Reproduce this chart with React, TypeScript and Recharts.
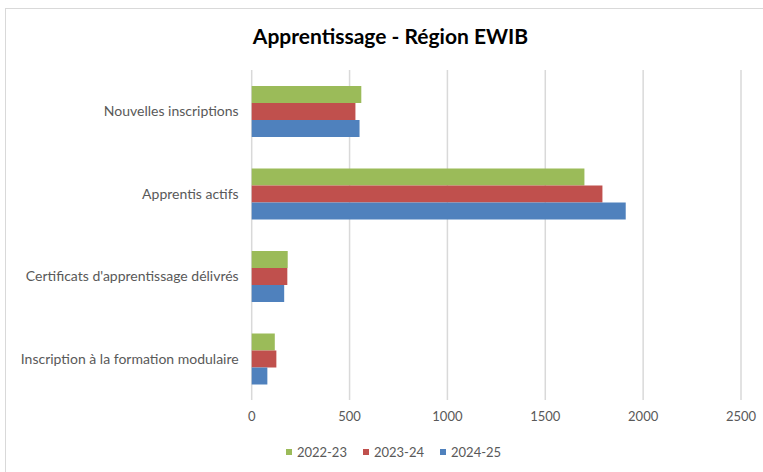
import React from 'react';
import { BarChart, Bar, XAxis, YAxis, CartesianGrid } from 'recharts';

const categories = [
  'Nouvelles inscriptions',
  'Apprentis actifs',
  "Certificats d'apprentissage délivrés",
  'Inscription à la formation modulaire',
];
const values2022 = [560, 1700, 184, 118];
const values2023 = [530, 1792, 182, 126];
const values2024 = [551, 1911, 166, 80];
const seriesNames = ['2022-23', '2023-24', '2024-25'];
const seriesColors = ['#9BBB59', '#C0504D', '#4F81BD'];
const xTicks = [0, 500, 1000, 1500, 2000, 2500];

const data = categories.map((c, i) => ({
  name: c,
  s2022: values2022[i],
  s2023: values2023[i],
  s2024: values2024[i],
}));

const FONT = 'Lato, "Open Sans", sans-serif';

export default function App() {
  return (
    <div style={{ position: 'absolute', left: 0, top: 0, width: 763, height: 472, overflow: 'hidden', background: '#fff' }}>
      <div style={{ position: 'absolute', left: 5, top: 8, width: 800, height: 500, border: '1px solid #d9d9d9', boxSizing: 'border-box' }} />
      <div style={{ position: 'absolute', left: 0, top: 23, width: 781, textAlign: 'center', fontFamily: FONT, fontWeight: 700, fontSize: 21, color: '#000' }}>
        Apprentissage - Région EWIB
      </div>
      <div style={{ position: 'absolute', left: 0, top: 0 }}>
        <BarChart
          width={763}
          height={472}
          data={data}
          layout="vertical"
          margin={{ top: 70, right: 22, bottom: 42, left: 0 }}
          barCategoryGap={16}
          barGap={0}
        >
          <CartesianGrid horizontal={false} stroke="#d9d9d9" strokeWidth={1.5} />
          <XAxis
            type="number"
            domain={[0, 2500]}
            ticks={xTicks}
            axisLine={false}
            tickLine={false}
            tickSize={0}
            tickMargin={12}
            height={30}
            tick={{ fill: '#595959', fontSize: 13, fontFamily: FONT }}
          />
          <YAxis
            type="category"
            dataKey="name"
            width={251.7}
            axisLine={false}
            tickLine={false}
            tickSize={0}
            tickMargin={13}
            tick={{ fill: '#595959', fontSize: 14, fontFamily: FONT }}
          />
          <Bar dataKey="s2022" name={seriesNames[0]} fill={seriesColors[0]} isAnimationActive={false} />
          <Bar dataKey="s2023" name={seriesNames[1]} fill={seriesColors[1]} isAnimationActive={false} />
          <Bar dataKey="s2024" name={seriesNames[2]} fill={seriesColors[2]} isAnimationActive={false} />
        </BarChart>
      </div>
      <div style={{ position: 'absolute', top: 444, left: 0, width: 787, display: 'flex', justifyContent: 'center', fontFamily: FONT, fontSize: 13, color: '#595959' }}>
        {seriesNames.map((n, i) => (
          <div key={n} style={{ display: 'flex', alignItems: 'center', marginRight: i < seriesNames.length - 1 ? 16 : 0 }}>
            <span style={{ display: 'inline-block', width: 6, height: 6, background: seriesColors[i], marginRight: 5 }} />
            <span>{n}</span>
          </div>
        ))}
      </div>
    </div>
  );
}
